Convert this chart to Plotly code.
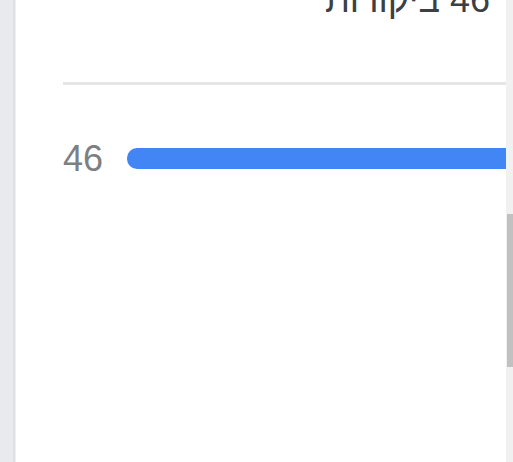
import plotly.graph_objects as go

# ---- data ----
review_labels = ["46"]
review_counts = [46]
header_count = 46
header_word = "ביקורות"

W, H = 513, 462

def px_x(p):
    return p / W

def px_y(p):
    return 1 - p / H

fig = go.Figure()

fig.add_trace(go.Bar(
    y=review_labels,
    x=review_counts,
    orientation="h",
    marker=dict(color="#4285f4", cornerradius=10, line=dict(width=0)),
    hoverinfo="skip",
    showlegend=False,
))

shapes = [
    # left grey page strip
    dict(type="rect", xref="paper", yref="paper", x0=px_x(0), x1=px_x(12.5), y0=0, y1=1,
         fillcolor="#e9eaee", line=dict(width=0), layer="below"),
    dict(type="rect", xref="paper", yref="paper", x0=px_x(12.5), x1=px_x(15.5), y0=0, y1=1,
         fillcolor="#dfe0e4", line=dict(width=0), layer="below"),
    # divider line
    dict(type="rect", xref="paper", yref="paper", x0=px_x(63), x1=px_x(506), y0=px_y(85), y1=px_y(82),
         fillcolor="#e6e6e6", line=dict(width=0), layer="below"),
    # scrollbar track and thumb
    dict(type="rect", xref="paper", yref="paper", x0=px_x(506), x1=1, y0=0, y1=1,
         fillcolor="#f1f1f1", line=dict(width=0), layer="above"),
    dict(type="rect", xref="paper", yref="paper", x0=px_x(507), x1=1, y0=px_y(367), y1=px_y(214),
         fillcolor="#c1c1c1", line=dict(width=0), layer="above"),
]

fig.update_layout(
    width=W, height=H,
    margin=dict(l=0, r=0, t=0, b=0),
    paper_bgcolor="white",
    plot_bgcolor="white",
    template="none",
    bargap=0.512,
    font=dict(family="Arial, 'Liberation Sans', sans-serif"),
    xaxis=dict(domain=[px_x(127), 1], range=[header_count, 0], visible=False,
               showgrid=False, zeroline=False, fixedrange=True),
    yaxis=dict(domain=[px_y(180), px_y(137)], type="category", range=[-0.5, 0.5],
               showgrid=False, zeroline=False, showline=False, ticks="",
               ticklabelstandoff=23, automargin=False,
               tickfont=dict(size=36, color="#7d7f83",
                             family="Arial, 'Liberation Sans', sans-serif")),
    shapes=shapes,
    annotations=[dict(
        text="\u200f" + f"{header_count} {header_word}",
        xref="paper", yref="paper", x=px_x(492), y=px_y(22),
        xanchor="right", yanchor="bottom", showarrow=False,
        font=dict(size=36, color="#3c4043", family="Arial, 'Liberation Sans', sans-serif"),
    )],
)

fig.write_html(
    "out.html",
    config={"displayModeBar": False},
    post_script="document.body.style.margin='0';document.body.style.overflow='hidden';",
)
